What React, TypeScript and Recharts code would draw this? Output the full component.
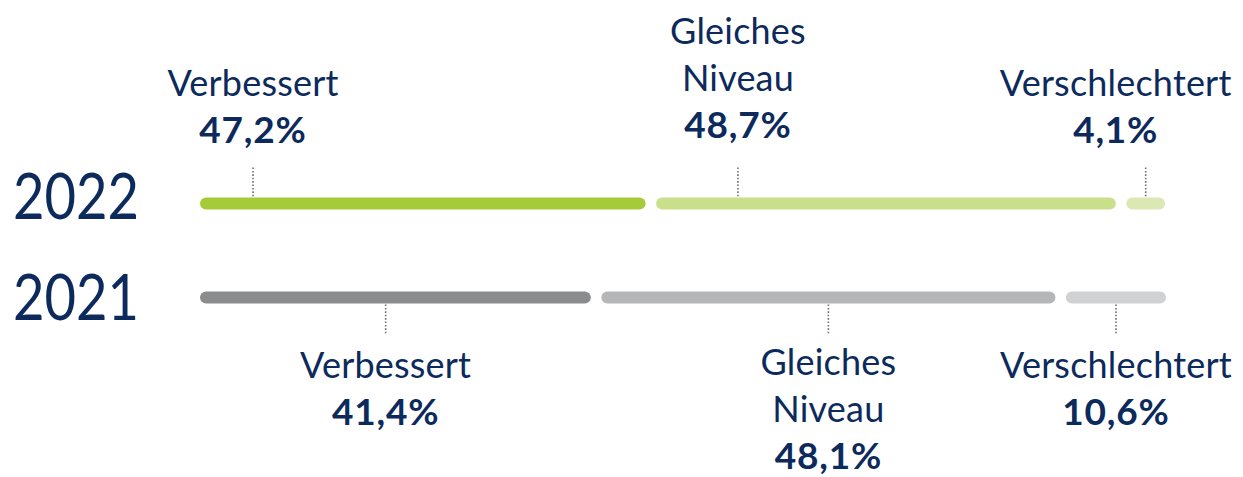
import React from 'react';
import { BarChart, Bar, XAxis, YAxis, Cell, LabelList } from 'recharts';

// data
const years = ['2022', '2021'];
const verbessert = [47.2, 41.4];
const gleichesNiveau = [48.7, 48.1];
const verschlechtert = [4.1, 10.6];
const seriesNames = ['Verbessert', 'Gleiches Niveau', 'Verschlechtert'];

// colours per series, per row (2022 green, 2021 grey)
const seriesColors = [
  ['#a6cb38', '#8b8c8e'],
  ['#cadf8b', '#b5b6b8'],
  ['#dce8b4', '#d0d1d3'],
];

const NAVY = '#0c2a5c';
const FONT = 'Lato, "Open Sans", sans-serif';
const GAP = 10.5;
const LINE_H = 46.7;

// where the leader sits inside each segment (fraction) and text shift
const leaderPos = [
  [0.119, 0.475],
  [0.178, 0.5],
  [0.5, 0.5],
];
const textShift = [
  [0, 0],
  [0, 0],
  [-30, 0],
];
const yearBaselineDy = [15.5, 22.5];

const data = years.map((year, i) => ({
  year,
  verbessert: verbessert[i],
  gleichesNiveau: gleichesNiveau[i],
  verschlechtert: verschlechtert[i],
}));

const fmt = (v: number) => v.toFixed(1).replace('.', ',') + '%';

const makeShape = (s: number) => (props: any) => {
  const { x, y, width, height, fill } = props;
  return <rect x={x + s * GAP} y={y} width={Math.max(width, 0)} height={height} rx={height / 2} ry={height / 2} fill={fill} />;
};

const makeLabel = (s: number) => (props: any) => {
  const { x, y, width, height, value } = props;
  const row = props.index != null ? props.index : y < 250 ? 0 : 1;
  const sx = x + s * GAP;
  const lx = sx + width * leaderPos[s][row];
  const tx = lx + textShift[s][row];
  const lines = [...seriesNames[s].split(' '), fmt(Number(value))];
  const n = lines.length;
  let firstBase: number;
  let ly1: number;
  let ly2: number;
  if (row === 0) {
    const lastBase = y - (n === 3 ? 60 : 54.4);
    firstBase = lastBase - (n - 1) * LINE_H;
    ly1 = y - 30;
    ly2 = y - 1;
  } else {
    firstBase = y + height + (n === 3 ? 71.7 : 74.4);
    ly1 = y + height + 1;
    ly2 = y + height + 30;
  }
  return (
    <g>
      <line x1={lx} x2={lx} y1={ly1} y2={ly2} stroke="#6f6f6f" strokeWidth={1.6} strokeDasharray="1.6 1.8" />
      {lines.map((t, k) => {
        const isPct = k === n - 1;
        return (
          <text
            key={k}
            x={tx}
            y={firstBase + k * LINE_H}
            textAnchor="middle"
            fill={NAVY}
            fontFamily={FONT}
            fontSize={isPct ? 37 : 36}
            fontWeight={isPct ? 700 : 400}
            letterSpacing={isPct ? 0.8 : 0.2}
          >
            {t}
          </text>
        );
      })}
    </g>
  );
};

const YearTick = (props: any) => {
  const { y, payload, index } = props;
  return (
    <text
      x={13}
      y={y + yearBaselineDy[index]}
      fill={NAVY}
      fontFamily={FONT}
      fontSize={63}
      textLength={126}
      lengthAdjust="spacingAndGlyphs"
    >
      {payload.value}
    </text>
  );
};

const keys = ['verbessert', 'gleichesNiveau', 'verschlechtert'];

const App: React.FC = () => {
  return (
    <div style={{ position: 'absolute', left: 0, top: 0, background: '#fff' }}>
      <BarChart
        width={1243}
        height={477}
        data={data}
        layout="vertical"
        margin={{ top: 156.5, right: 98, left: 0, bottom: 132.5 }}
      >
        <XAxis type="number" domain={[0, 100]} hide />
        <YAxis
          type="category"
          dataKey="year"
          width={200}
          axisLine={false}
          tickLine={false}
          tick={<YearTick />}
        />
        {keys.map((k, s) => (
          <Bar key={k} dataKey={k} stackId="a" barSize={12} isAnimationActive={false} shape={makeShape(s)}>
            {data.map((_, i) => (
              <Cell key={i} fill={seriesColors[s][i]} />
            ))}
            <LabelList dataKey={k} content={makeLabel(s)} />
          </Bar>
        ))}
      </BarChart>
    </div>
  );
};

export default App;
